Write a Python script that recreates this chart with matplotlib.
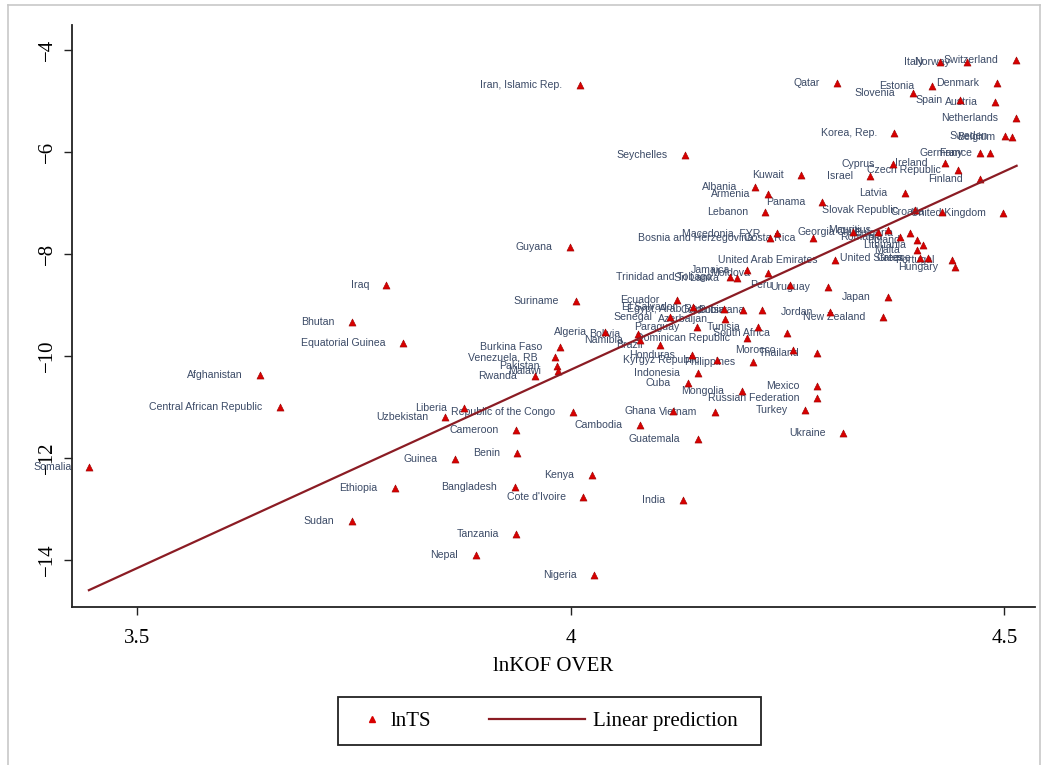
import matplotlib
matplotlib.use("Agg")
import matplotlib.pyplot as plt
from matplotlib.legend_handler import HandlerLine2D
from matplotlib.lines import Line2D

# country, lnKOF OVER, lnTS
countries = [
    "Somalia", "Central African Republic", "Afghanistan", "Sudan", "Bhutan", "Iraq",
    "Ethiopia", "Equatorial Guinea", "Uzbekistan", "Guinea", "Liberia", "Nepal",
    "Bangladesh", "Benin", "Cameroon", "Tanzania", "Rwanda", "Venezuela, RB",
    "Pakistan", "Malawi", "Burkina Faso", "Guyana", "Republic of the Congo", "Suriname",
    "Iran, Islamic Rep.", "Cote d'Ivoire", "Kenya", "Nigeria", "Algeria", "Bolivia",
    "Namibia", "Cambodia", "Brazil", "Senegal", "Ghana", "Ecuador",
    "India", "Seychelles", "Cuba", "Honduras", "El Salvador", "Paraguay",
    "Indonesia", "Guatemala", "Vietnam", "Kyrgyz Republic", "Egypt, Arab Rep.", "Azerbaijan",
    "Trinidad and Tobago", "Sri Lanka", "Mongolia", "Colombia", "Dominican Republic", "Jamaica",
    "Philippines", "Albania", "Tunisia", "Botswana", "Moldova", "Lebanon",
    "Armenia", "Bosnia and Herzegovina", "Macedonia, FYR", "South Africa", "Peru", "Morocco",
    "Kuwait", "Turkey", "Costa Rica", "Mexico", "Russian Federation", "Thailand",
    "Panama", "Uruguay", "Jordan", "United Arab Emirates", "Qatar", "Ukraine",
    "Georgia", "Israel", "Chile", "New Zealand", "Japan", "Mauritius",
    "Cyprus", "Korea, Rep.", "Romania", "Latvia", "Bulgaria", "Slovenia",
    "Slovak Republic", "Malta", "Poland", "United States", "Lithuania", "Greece",
    "Estonia", "Italy", "Croatia", "Ireland", "Portugal", "Hungary",
    "Czech Republic", "Spain", "Norway", "Finland", "Germany", "France",
    "Austria", "Denmark", "United Kingdom", "Sweden", "Belgium", "Netherlands",
    "Switzerland",
]
lnkof = [
    3.444, 3.664, 3.641, 3.747, 3.747, 3.787,
    3.797, 3.806, 3.855, 3.866, 3.877, 3.890,
    3.935, 3.938, 3.937, 3.937, 3.958, 3.982,
    3.984, 3.985, 3.987, 3.999, 4.002, 4.006,
    4.010, 4.014, 4.024, 4.027, 4.039, 4.077,
    4.080, 4.080, 4.103, 4.114, 4.118, 4.122,
    4.129, 4.131, 4.135, 4.140, 4.141, 4.145,
    4.146, 4.146, 4.166, 4.168, 4.176, 4.178,
    4.183, 4.191, 4.197, 4.198, 4.203, 4.203,
    4.210, 4.212, 4.216, 4.220, 4.227, 4.224,
    4.227, 4.230, 4.238, 4.249, 4.253, 4.256,
    4.265, 4.270, 4.279, 4.284, 4.284, 4.284,
    4.290, 4.296, 4.299, 4.304, 4.307, 4.314,
    4.325, 4.345, 4.354, 4.360, 4.366, 4.366,
    4.371, 4.373, 4.379, 4.385, 4.391, 4.394,
    4.397, 4.399, 4.399, 4.403, 4.406, 4.412,
    4.416, 4.426, 4.428, 4.431, 4.439, 4.443,
    4.446, 4.449, 4.457, 4.472, 4.472, 4.483,
    4.489, 4.491, 4.498, 4.501, 4.509, 4.513,
    4.513,
]
lnts = [
    -12.18, -11.00, -10.37, -13.24, -9.33, -8.61,
    -12.59, -9.75, -11.20, -12.02, -11.02, -13.90,
    -12.57, -11.90, -11.45, -13.49, -10.39, -10.02,
    -10.20, -10.29, -9.82, -7.86, -11.10, -8.92,
    -4.69, -12.76, -12.33, -14.29, -9.53, -9.57,
    -9.69, -11.35, -9.78, -9.24, -11.08, -8.90,
    -12.82, -6.06, -10.53, -9.98, -9.04, -9.43,
    -10.33, -11.63, -11.10, -10.08, -9.08, -9.27,
    -8.45, -8.47, -10.69, -9.10, -9.65, -8.31,
    -10.12, -6.69, -9.43, -9.10, -8.37, -7.18,
    -6.82, -7.69, -7.59, -9.55, -8.61, -9.88,
    -6.45, -11.06, -7.69, -10.59, -10.82, -9.94,
    -6.98, -8.65, -9.14, -8.12, -4.65, -11.51,
    -7.57, -6.47, -7.57, -9.24, -8.84, -7.53,
    -6.24, -5.63, -7.67, -6.80, -7.59, -4.84,
    -7.14, -7.92, -7.73, -8.08, -7.82, -8.08,
    -4.71, -4.24, -7.18, -6.22, -8.12, -8.25,
    -6.35, -4.98, -4.24, -6.53, -6.02, -6.02,
    -5.02, -4.65, -7.20, -5.69, -5.71, -5.33,
    -4.20,
]

# linear prediction, end points
fit_x = [3.444, 4.514]
fit_y = [-14.59, -6.27]

x_ticks = [3.5, 4, 4.5]
y_ticks = [-4, -6, -8, -10, -12, -14]

label_color = "#3b4a66"
marker_color = "#d80000"
line_color = "#8b1c24"
serif = ["Liberation Serif", "DejaVu Serif"]


class WideLine(HandlerLine2D):
    # draw the legend line further to the left than the (short) handle box
    def get_xdata(self, legend, xdescent, ydescent, width, height, fontsize):
        return [-xdescent + width - 69, -xdescent + width], [-xdescent + width]


fig = plt.figure(figsize=(10.45, 7.65), dpi=100)
ax = fig.add_axes([72 / 1045, 1 - 607 / 765, (1035 - 72) / 1045, (607 - 25) / 765])

for name, x, y in zip(countries, lnkof, lnts):
    ax.annotate(name, (x, y), xytext=(-12.5, 0), textcoords="offset points",
                ha="right", va="center", fontsize=7.6, color=label_color,
                family=["Liberation Sans", "DejaVu Sans"], zorder=2)

ax.scatter(lnkof, lnts, marker="^", s=26, color=marker_color,
           edgecolors="#9a0000", linewidths=0.4, zorder=3)
ax.plot(fit_x, fit_y, color=line_color, lw=1.6, zorder=4)

ax.set_xlim(3.4245, 4.5352)
ax.set_ylim(-14.92, -3.51)
ax.set_xticks(x_ticks)
ax.set_xticklabels([f"{t:g}" for t in x_ticks], family=serif, fontsize=15)
ax.set_yticks(y_ticks)
ax.set_yticklabels([f"\u2212{abs(t)}" for t in y_ticks], family=serif, fontsize=15,
                   rotation=90, va="center")
ax.tick_params(direction="out", length=6, width=1, color="#222222", pad=5)
ax.tick_params(axis="x", pad=9.5)
ax.set_xlabel("lnKOF OVER", family=serif, fontsize=15, labelpad=7)

for side in ["top", "right"]:
    ax.spines[side].set_visible(False)
for side in ["left", "bottom"]:
    ax.spines[side].set_linewidth(1.3)
    ax.spines[side].set_color("#222222")

h_pts = Line2D([], [], marker="^", ls="none", color=marker_color, markersize=4.5)
h_fit = Line2D([], [], color=line_color, lw=1.6)
leg = fig.legend([h_pts, h_fit], ["lnTS", "Linear prediction"], ncol=2,
                 loc="center", bbox_to_anchor=(0.526, 0.0575),
                 prop={"family": serif, "size": 15},
                 handlelength=1.0, handletextpad=0.4, columnspacing=6.4,
                 borderpad=0.6, fancybox=False, framealpha=1, edgecolor="#222222",
                 handler_map={h_fit: WideLine()})
frame = leg.get_frame()
frame.set_linewidth(1.3)
# wider side padding than top/bottom padding, like the reference box
frame.set_boxstyle("square", pad=0.5)
frame.set_mutation_aspect(0.2)

# light outer frame of the graph region
for xs, ys in [([8 / 1045, 8 / 1045], [0, 1 - 5 / 765]),
               ([8 / 1045, 1040 / 1045], [1 - 5 / 765, 1 - 5 / 765]),
               ([1040 / 1045, 1040 / 1045], [0, 1 - 5 / 765])]:
    fig.add_artist(Line2D(xs, ys, transform=fig.transFigure, color="#c8c8c8", lw=1.2))

fig.savefig("out.png", dpi=100, facecolor="white")
